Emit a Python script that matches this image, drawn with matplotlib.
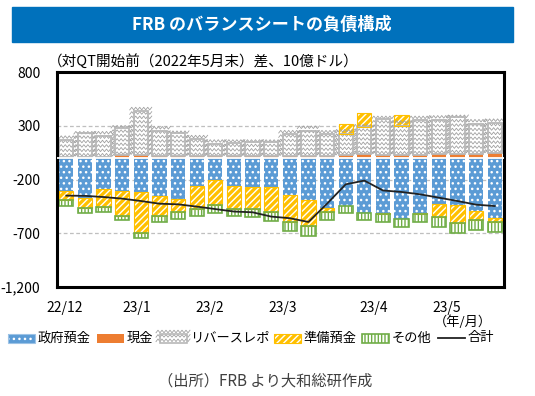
import numpy as np
import matplotlib
matplotlib.use('Agg')
import matplotlib.pyplot as plt
from matplotlib.patches import Rectangle
from matplotlib.lines import Line2D
from matplotlib.transforms import IdentityTransform

plt.rcParams['font.family'] = ['Noto Sans CJK JP', 'DejaVu Sans']
plt.rcParams['hatch.linewidth'] = 1.0

# ---- data (10億ドル, 対QT開始前差), weekly from 22/12 to 23/5 ----
govt    = [-307, -369, -289, -310, -316, -355, -384, -261, -208, -261, -267, -273,
           -347, -387, -468, -447, -508, -511, -564, -511, -424, -440, -496, -558]
cash    = [10, 10, 10, 25, 30, 15, 15, 15, 15, 15, 15, 15,
           20, 20, 20, 28, 34, 30, 28, 30, 35, 40, 40, 45]
rrp     = [160, 218, 197, 250, 403, 235, 213, 164, 118, 127, 133, 133,
           205, 230, 199, 191, 259, 330, 272, 319, 320, 340, 275, 283]
reserve = [-87, -92, -166, -232, -381, -180, -118, -216, -232, -216, -207, -229,
           -248, -245, -34, 100, 127, -14, 100, -14, -127, -161, -81, -37]
other   = [-56, -54, -50, -31, -46, -56, -65, -62, -71, -59, -74, -80,
           -86, -93, -77, -64, -65, -70, -80, -70, -93, -93, -89, -93]
total   = [-350, -352, -363, -378, -400, -425, -431, -452, -475, -498, -505, -545,
           -560, -595, -425, -245, -210, -302, -316, -338, -369, -400, -434, -447]

month_labels = ['22/12', '23/1', '23/2', '23/3', '23/4', '23/5']
month_pos = [-0.1, 3.8, 7.7, 11.6, 16.5, 20.4]
yticks = [-1200, -700, -200, 300, 800]

BLUE, ORANGE, GRAY, YELLOW, GREEN = '#5B9BD5', '#ED7D31', '#ABABAB', '#FFC000', '#70AD47'

govt, cash, rrp, reserve, other = map(np.array, (govt, cash, rrp, reserve, other))
n = len(govt)
x = np.arange(n)
W = 0.76

fig = plt.figure(figsize=(5.35, 3.96), dpi=100)
ax = fig.add_axes([57 / 535, 109 / 396, 447 / 535, 215 / 396])
ax.set_xlim(-0.5, n - 0.5)
ax.set_ylim(-1200, 800)


def layer(ax, xs, h, bottom, face, hatch=None, hcolor='white', edge=None, lw=0.0, width=W):
    bars = ax.bar(xs, h, width, bottom, facecolor=face, edgecolor='none', linewidth=0, zorder=2)
    if hatch:
        ax.bar(xs, h, width, bottom, facecolor='none', edgecolor=hcolor, hatch=hatch,
               linewidth=0, zorder=2.1)
    if edge:
        ax.bar(xs, h, width, bottom, facecolor='none', edgecolor=edge, linewidth=lw, zorder=2.2)
    return bars


def zigzag(host, patches, color='#A0A0A0', step=4.0, amp=1.3, gap=4.4):
    # wavy texture drawn in pixels, clipped to each patch
    for p in patches:
        bb = p.get_window_extent()
        if bb.height < 1:
            continue
        xs = np.arange(bb.x0 - step, bb.x1 + step, step / 2)
        sign = (np.arange(len(xs)) % 2) * 2 - 1
        for y0 in np.arange(bb.y0 + gap / 2, bb.y1 + gap, gap):
            ln = Line2D(xs, y0 + amp * sign, transform=IdentityTransform(),
                        color=color, lw=0.6, zorder=2.15)
            ln.set_clip_path(p)
            host.add_artist(ln)


# positive side
layer(ax, x, cash, 0, ORANGE)
rrp_bars = layer(ax, x, rrp, cash, 'white', edge='#B8B8B8', lw=1.3)
pos_top = cash + rrp
# negative side
layer(ax, x, govt, 0, BLUE, hatch='...')
res_bottom = np.where(reserve > 0, pos_top, govt)
layer(ax, x, reserve, res_bottom, YELLOW, hatch='/////', edge=YELLOW, lw=0.8)
oth_bottom = govt + np.minimum(reserve, 0)
layer(ax, x, other, oth_bottom, 'white', hatch='|||||', hcolor=GREEN, edge=GREEN, lw=1.2)

ax.axhline(0, color='white', lw=1.3, zorder=3)
ax.plot(x, total, color='#222222', lw=1.3, zorder=5)

ax.set_yticks(yticks)
ax.set_yticklabels([f'{v:,}' for v in yticks])
ax.set_xticks(month_pos)
ax.set_xticklabels(month_labels)
ax.tick_params(axis='both', length=0, labelsize=10, colors='black')
ax.tick_params(axis='y', pad=12)
ax.tick_params(axis='x', pad=10)
ax.yaxis.grid(True, color='#BFBFBF', linestyle=(0, (3, 2)), lw=0.9)
ax.set_axisbelow(True)
for s in ax.spines.values():
    s.set_linewidth(2.2)
    s.set_color('black')

zigzag(ax, rrp_bars.patches)

# ---- overlay in pixel coordinates for title, notes and legend ----
ov = fig.add_axes([0, 0, 1, 1])
ov.set_xlim(0, 535)
ov.set_ylim(396, 0)
ov.axis('off')

ov.add_patch(Rectangle((12, 7), 501, 35, color='#0071BC', zorder=1))
ov.text(262, 25, 'FRB のバランスシートの負債構成', color='white', fontsize=12.3,
        fontweight='bold', ha='center', va='center')
ov.text(48, 61, '（対QT開始前（2022年5月末）差、10億ドル）', fontsize=10.5,
        ha='left', va='center')
ov.text(463, 322, '（年/月）', fontsize=9.5, ha='center', va='center')
ov.text(265, 381, '（出所）FRB より大和総研作成', fontsize=11, color='#404040',
        ha='center', va='center')

ly, lh, lw_ = 338, 9, 27
legend_items = ['政府預金', '現金', 'リバースレポ', '準備預金', 'その他', '合計']
legend_x = [8, 97, 160, 274, 362, 438]


def leg_box(x0, face, hatch=None, hcolor='white', edge=None, elw=0.0):
    r = Rectangle((x0, ly - lh / 2), lw_, lh, facecolor=face, edgecolor='none', lw=0, zorder=2)
    ov.add_patch(r)
    if hatch:
        ov.add_patch(Rectangle((x0, ly - lh / 2), lw_, lh, facecolor='none', edgecolor=hcolor,
                               hatch=hatch, lw=0, zorder=2.1))
    if edge:
        ov.add_patch(Rectangle((x0, ly - lh / 2), lw_, lh, facecolor='none', edgecolor=edge,
                               lw=elw, zorder=2.2))
    return r


leg_box(legend_x[0], BLUE, hatch='...', edge='#9DC3E6', elw=0.8)
leg_box(legend_x[1], ORANGE)
gr = leg_box(legend_x[2], 'white', edge='#B8B8B8', elw=1.2)
leg_box(legend_x[3], YELLOW, hatch='/////', edge=YELLOW, elw=0.8)
leg_box(legend_x[4], 'white', hatch='|||||', hcolor=GREEN, edge=GREEN, elw=1.2)
ov.plot([legend_x[5], legend_x[5] + lw_], [ly, ly], color='#222222', lw=1.3)
zigzag(ov, [gr])

for lx, lab in zip(legend_x, legend_items):
    ov.text(lx + lw_ + 3, ly, lab, fontsize=9.5, ha='left', va='center')

fig.savefig('out.png', dpi=100)
